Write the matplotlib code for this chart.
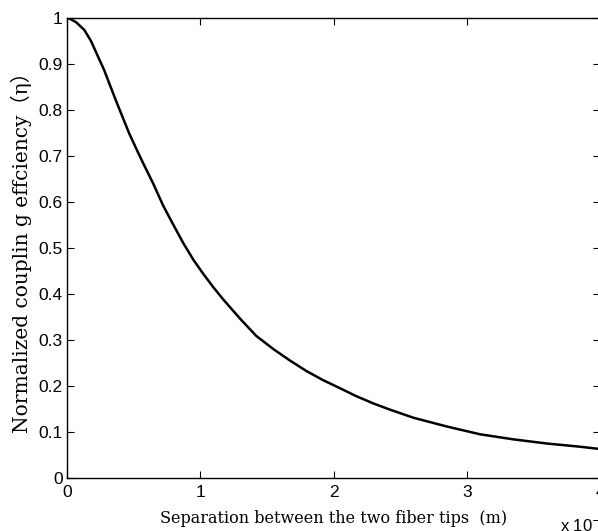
from matplotlib import pyplot as plt

# separation (units of 1e-4 m) and normalized coupling efficiency
sep = [0.0, 0.017, 0.068, 0.13, 0.18, 0.23, 0.28, 0.317, 0.368, 0.418, 0.467, 0.518,
       0.572, 0.647, 0.722, 0.797, 0.872, 0.947, 1.022, 1.10, 1.17, 1.30, 1.42, 1.55,
       1.67, 1.80, 1.92, 2.05, 2.17, 2.30, 2.42, 2.60, 2.85, 3.10, 3.35, 3.60, 3.85, 4.0]
eta = [1.0, 0.999, 0.991, 0.974, 0.950, 0.918, 0.886, 0.858, 0.820, 0.784, 0.749, 0.717,
       0.684, 0.640, 0.592, 0.551, 0.511, 0.475, 0.444, 0.414, 0.389, 0.346, 0.309, 0.280,
       0.256, 0.232, 0.213, 0.195, 0.178, 0.162, 0.149, 0.131, 0.112, 0.095, 0.084, 0.075,
       0.068, 0.063]

xticks = [0, 1, 2, 3, 4]
yticks = [0, 0.1, 0.2, 0.3, 0.4, 0.5, 0.6, 0.7, 0.8, 0.9, 1]
ytick_labels = ['0', '0.1', '0.2', '0.3', '0.4', '0.5', '0.6', '0.7', '0.8', '0.9', '1']

fig = plt.figure(figsize=(5.98, 5.31), dpi=100)
ax = fig.add_axes([67/598, 53/531, 533/598, 460/531])

ax.plot(sep, eta, color='black', linewidth=1.8, solid_joinstyle='round')

ax.set_xlim(0, 4)
ax.set_ylim(0, 1)
ax.set_xticks(xticks)
ax.set_xticklabels([str(t) for t in xticks], family='Liberation Sans', fontsize=12.5)
ax.set_yticks(yticks)
ax.set_yticklabels(ytick_labels, family='Liberation Sans', fontsize=12.5)
ax.tick_params(direction='in', top=True, right=True, length=5, width=0.8)
ax.tick_params(axis='x', pad=5)
ax.tick_params(axis='y', pad=3)
for s in ax.spines.values():
    s.set_linewidth(1.0)

ax.set_xlabel('Separation between the two fiber tips  (m)', family='DejaVu Serif',
              fontsize=11.5, labelpad=7)
ax.set_ylabel('Normalized couplin g effciency（η）', family=['DejaVu Serif', 'Noto Sans CJK SC'],
              fontsize=14.5, labelpad=5)

fig.text(560/598, 1 - 525/531, 'x 10$^{-4}$', family='Liberation Sans', fontsize=12,
         va='center', ha='left')

fig.savefig('out.png', dpi=100)
